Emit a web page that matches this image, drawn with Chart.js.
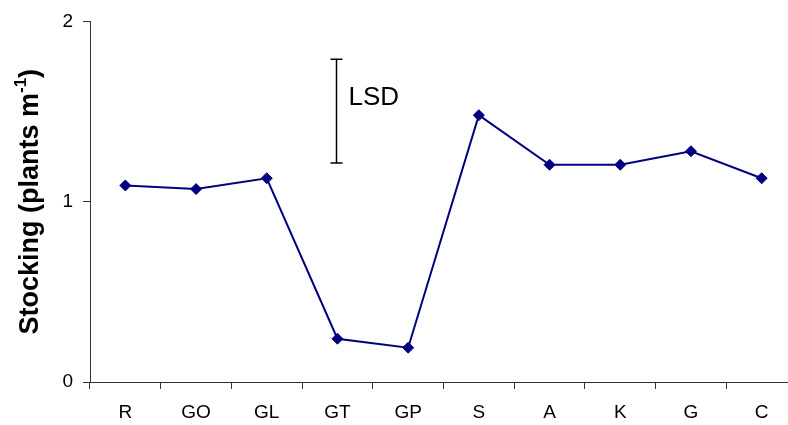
<!DOCTYPE html>
<html>
<head>
<meta charset="utf-8">
<script src="https://cdn.jsdelivr.net/npm/chart.js@4/dist/chart.umd.min.js"></script>
<style>
html,body{margin:0;padding:0;background:#fff;overflow:hidden;}
#wrap{width:797px;height:425px;position:relative;}
canvas{display:block;}
</style>
</head>
<body>
<div id="wrap"><canvas id="c" width="797" height="425"></canvas></div>
<script>
const categories = ['R','GO','GL','GT','GP','S','A','K','G','C'];
const stocking = [1.09, 1.07, 1.13, 0.24, 0.19, 1.48, 1.205, 1.205, 1.28, 1.13];
const yTicks = [0, 1, 2];
const lsdCategory = 'GT';
const lsdTop = 1.79;
const lsdBottom = 1.215;
const lsdLabelValue = 1.575;
const lsdLabel = 'LSD';
const yTitleMain = 'Stocking (plants m';
const yTitleSup = '-1';
const yTitleEnd = ')';

const FONT = '"Liberation Sans", Arial, sans-serif';

const overlay = {
  id: 'overlay',
  afterDraw(chart) {
    const ctx = chart.ctx;
    const x = chart.scales.x, y = chart.scales.y;
    const lx = Math.round(x.getPixelForValue(categories.indexOf(lsdCategory))) - 0.5;
    const yt = y.getPixelForValue(lsdTop), yb = y.getPixelForValue(lsdBottom);
    ctx.save();
    ctx.strokeStyle = '#000';
    ctx.lineWidth = 1.5;
    ctx.beginPath();
    ctx.moveTo(lx, yt); ctx.lineTo(lx, yb);
    ctx.moveTo(lx - 6, yt); ctx.lineTo(lx + 6, yt);
    ctx.moveTo(lx - 6, yb); ctx.lineTo(lx + 6, yb);
    ctx.stroke();
    ctx.fillStyle = '#000';
    ctx.font = '26px ' + FONT;
    ctx.textAlign = 'left';
    ctx.textBaseline = 'middle';
    ctx.fillText(lsdLabel, lx + 12, y.getPixelForValue(lsdLabelValue));
    ctx.restore();

    ctx.save();
    const ca = chart.chartArea;
    const cy = (ca.top + ca.bottom) / 2;
    ctx.translate(31, cy);
    ctx.rotate(-Math.PI / 2);
    const mainFont = 'bold 27px ' + FONT;
    const supFont = 'bold 17px ' + FONT;
    ctx.font = mainFont;
    const w1 = ctx.measureText(yTitleMain).width;
    const w3 = ctx.measureText(yTitleEnd).width;
    ctx.font = supFont;
    const w2 = ctx.measureText(yTitleSup).width;
    const total = w1 + w2 + w3;
    let sx = -total / 2;
    ctx.fillStyle = '#000';
    ctx.textBaseline = 'middle';
    ctx.textAlign = 'left';
    ctx.font = mainFont;
    ctx.fillText(yTitleMain, sx, 0);
    sx += w1;
    ctx.font = supFont;
    ctx.fillText(yTitleSup, sx, -10);
    sx += w2;
    ctx.font = mainFont;
    ctx.fillText(yTitleEnd, sx, 0);
    ctx.restore();
  }
};

new Chart(document.getElementById('c'), {
  type: 'line',
  data: {
    labels: categories,
    datasets: [{
      data: stocking,
      borderColor: '#000080',
      backgroundColor: '#000080',
      borderWidth: 2,
      pointStyle: 'rectRot',
      pointRadius: 5.5,
      pointBorderWidth: 1,
      pointBackgroundColor: '#000080',
      pointBorderColor: '#000080',
      tension: 0,
      fill: false,
      clip: false
    }]
  },
  options: {
    responsive: false,
    maintainAspectRatio: false,
    animation: false,
    layout: { autoPadding: false, padding: { top: 20, right: 0, left: 0, bottom: 0 } },
    plugins: { legend: { display: false }, tooltip: { enabled: false } },
    scales: {
      x: {
        type: 'category',
        offset: true,
        grid: { offset: true, drawOnChartArea: false, drawTicks: true, tickLength: 7, color: '#333', lineWidth: 1 },
        border: { display: true, color: '#333', width: 1 },
        ticks: { color: '#000', font: { family: FONT, size: 19 }, padding: 12, maxRotation: 0, autoSkip: false },
        afterFit(s) { s.height = 43; s.paddingLeft = 0; s.paddingRight = 0; }
      },
      y: {
        min: 0, max: 2,
        afterBuildTicks(s) { s.ticks = yTicks.map(v => ({ value: v })); },
        grid: { drawOnChartArea: false, drawTicks: true, tickLength: 7, color: '#333', lineWidth: 1 },
        border: { display: true, color: '#333', width: 1 },
        ticks: { color: '#000', font: { family: FONT, size: 19 }, padding: 10 },
        afterFit(s) { s.width = 90; }
      }
    }
  },
  plugins: [overlay]
});
</script>
</body>
</html>
